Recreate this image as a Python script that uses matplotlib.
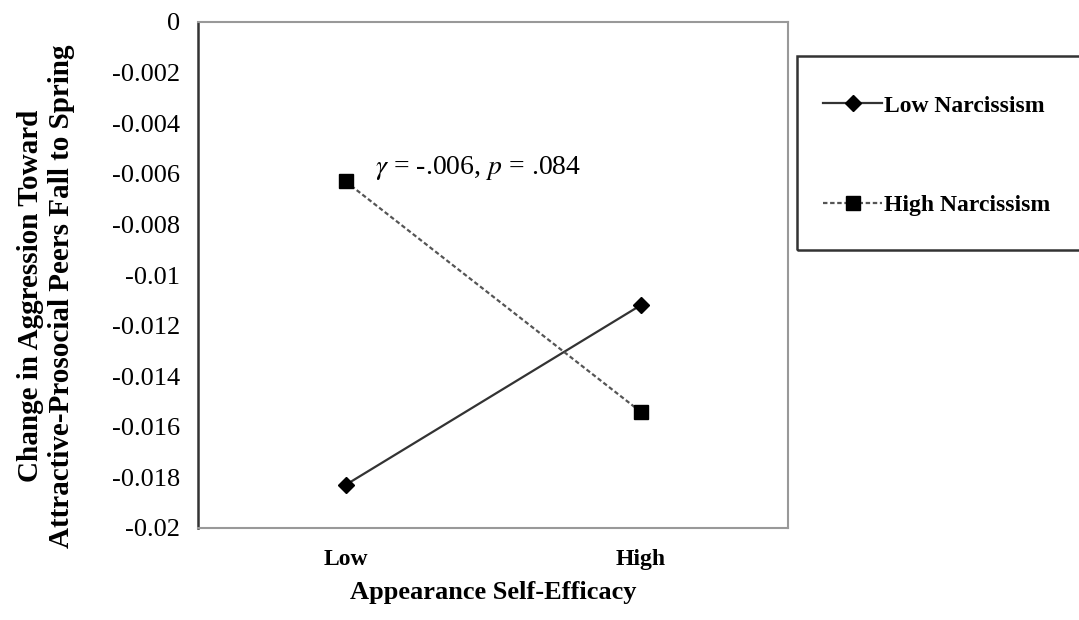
import matplotlib
matplotlib.use("Agg")
import matplotlib.pyplot as plt
from matplotlib.patches import Rectangle

plt.rcParams['font.family'] = ['Liberation Serif', 'DejaVu Serif']
plt.rcParams['mathtext.fontset'] = 'stix'

categories = ["Low", "High"]
low_narc = [-0.0183, -0.0112]
high_narc = [-0.0063, -0.0154]
yticks = [0, -0.002, -0.004, -0.006, -0.008, -0.01, -0.012, -0.014, -0.016, -0.018, -0.02]
ytick_labels = ["0", "-0.002", "-0.004", "-0.006", "-0.008", "-0.01", "-0.012",
                "-0.014", "-0.016", "-0.018", "-0.02"]
series_names = ["Low Narcissism", "High Narcissism"]
annotation = r"$\gamma$ = -.006, $p$ = .084"

W, H = 1079, 620
fig = plt.figure(figsize=(W / 100, H / 100), dpi=100)
ax = fig.add_axes([198 / W, (H - 528) / H, 590 / W, 506 / H])

x = list(range(len(categories)))
l1, = ax.plot(x, low_narc, color='#333333', lw=1.6, marker='D', markersize=8,
              markerfacecolor='black', markeredgecolor='black', label=series_names[0])
l2, = ax.plot(x, high_narc, color='#555555', lw=1.6, ls=(0, (2, 1.2)), marker='s',
              markersize=10, markerfacecolor='black', markeredgecolor='black',
              label=series_names[1])

ax.set_xlim(-0.5, 1.5)
ax.set_ylim(-0.02, 0)
ax.set_yticks(yticks)
ax.set_yticklabels(ytick_labels, fontsize=19)
ax.set_xticks(x)
ax.set_xticklabels(categories, fontsize=17, fontweight='bold')
ax.tick_params(axis='y', length=0, pad=13)
ax.tick_params(axis='x', length=0, pad=15)

for s in ['top', 'right', 'bottom']:
    ax.spines[s].set_color('#999999')
    ax.spines[s].set_linewidth(1.5)
ax.spines['left'].set_color('#333333')
ax.spines['left'].set_linewidth(1.8)

ax.text(0.1, -0.00577, annotation, fontsize=20, ha='left', va='center')

fig.text(198 / W + 295 / W, (H - 592) / H, "Appearance Self-Efficacy",
         fontsize=19, fontweight='bold', ha='center', va='center')
fig.text(46 / W, (H - 296) / H,
         "Change in Aggression Toward\nAttractive-Prosocial Peers Fall to Spring",
         fontsize=21, fontweight='bold', ha='center', va='center', rotation=90,
         linespacing=1.2)

# legend frame extending past right edge
rect = Rectangle((797 / W, (H - 250) / H), 400 / W, 194 / H, transform=fig.transFigure,
                 fill=False, edgecolor='#333333', lw=1.8, clip_on=False)
fig.patches.append(rect)
leg = fig.legend(handles=[l1, l2], loc='upper left',
                 bbox_to_anchor=(823 / W, (H - 95) / H), frameon=False,
                 prop={'family': 'Liberation Serif', 'weight': 'bold', 'size': 17},
                 handlelength=2.5, handletextpad=0.1, labelspacing=3.3,
                 borderaxespad=0, borderpad=0)

fig.savefig("out.png", dpi=100)
